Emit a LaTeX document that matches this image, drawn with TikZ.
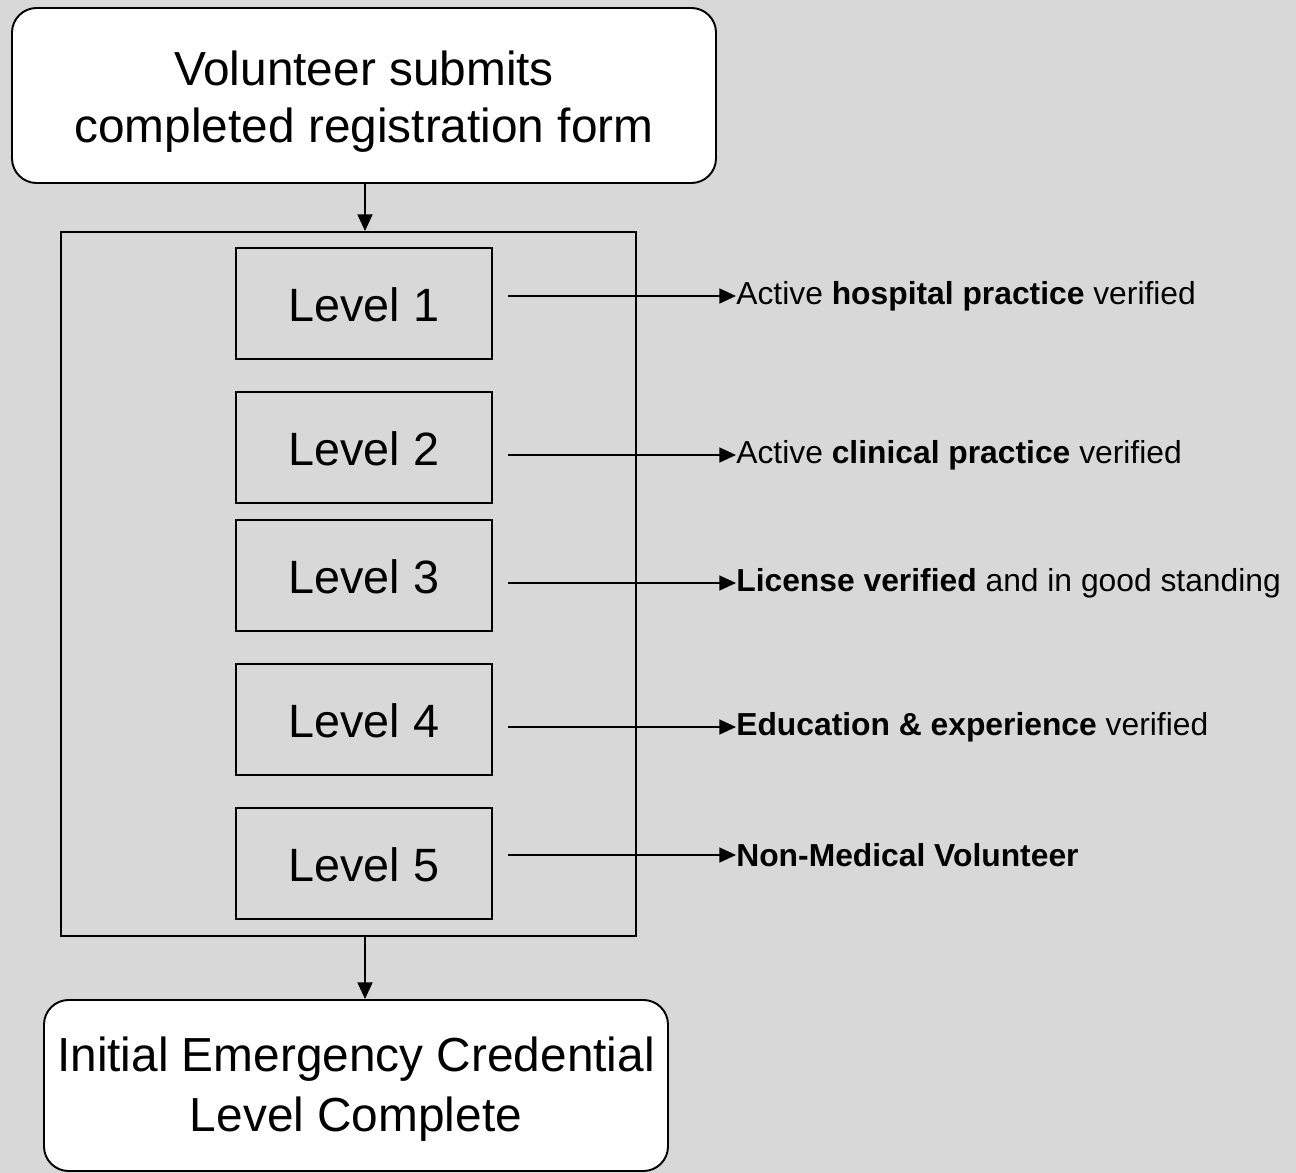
\documentclass[tikz,border=0pt]{standalone}
\usepackage{fontspec}
\setmainfont{Liberation Sans}
\usetikzlibrary{arrows.meta}
\definecolor{bg}{RGB}{216,216,216}
\begin{document}
\begin{tikzpicture}[x=0.02cm,y=-0.02cm,
  lw/.style={line width=1.1pt},
  bigtext/.style={font=\fontsize{27.2}{32.4}\selectfont, align=center},
  roundbox/.style={lw, draw=black, fill=white, rounded corners=14pt, inner sep=0pt},
  levelbox/.style={lw, draw=black, inner sep=0pt, minimum width=256*0.02cm, minimum height=111*0.02cm, font=\fontsize{26.6}{33}\selectfont},
  lab/.style={anchor=west, inner sep=0pt, font=\fontsize{18.1}{22}\selectfont},
  arr/.style={lw, -{Triangle[length=9.5pt,width=8.5pt]}}
]
\fill[bg] (0,0) rectangle (1296,1173);
\useasboundingbox (0,0) rectangle (1296,1173);

\node[roundbox, bigtext, minimum width=704*0.02cm, minimum height=175*0.02cm] (top) at (364,95.5) {\rule{0pt}{27pt}Volunteer submits\\completed registration form};
\node[lw, draw=black, minimum width=575*0.02cm, minimum height=704*0.02cm, inner sep=0pt] (cont) at (348.5,584) {};
\node[roundbox, bigtext, font=\fontsize{27.2}{34}\selectfont, minimum width=624*0.02cm, minimum height=171*0.02cm] (bot) at (356,1085.5) {\rule{0pt}{24pt}Initial Emergency Credential\\Level Complete};

\node[levelbox] (l1) at (364,303.5) {\rule{0pt}{21pt}Level 1};
\node[levelbox] (l2) at (364,447.5) {\rule{0pt}{21pt}Level 2};
\node[levelbox] (l3) at (364,575.5) {\rule{0pt}{21pt}Level 3};
\node[levelbox] (l4) at (364,719.5) {\rule{0pt}{21pt}Level 4};
\node[levelbox] (l5) at (364,863.5) {\rule{0pt}{21pt}Level 5};

\node[lab] (t1) at (736,296) {Active \textbf{hospital practice} verified};
\node[lab] (t2) at (736,455) {Active \textbf{clinical practice} verified};
\node[lab] (t3) at (736,583) {\textbf{License verified} and in good standing};
\node[lab] (t4) at (736,727) {\textbf{Education \& experience} verified};
\node[lab] (t5) at (736,855) {\textbf{Non-Medical Volunteer}};

\coordinate (s1) at (508,296);
\coordinate (s2) at (508,455);
\coordinate (s3) at (508,583);
\coordinate (s4) at (508,727);
\coordinate (s5) at (508,855);

\foreach \i in {1,...,5} {\draw[arr] (s\i) -- (t\i.west);}

\draw[arr] (top.south -| 365,0) -- (cont.north -| 365,0);
\draw[arr] (cont.south -| 365,0) -- (bot.north -| 365,0);
\end{tikzpicture}
\end{document}
